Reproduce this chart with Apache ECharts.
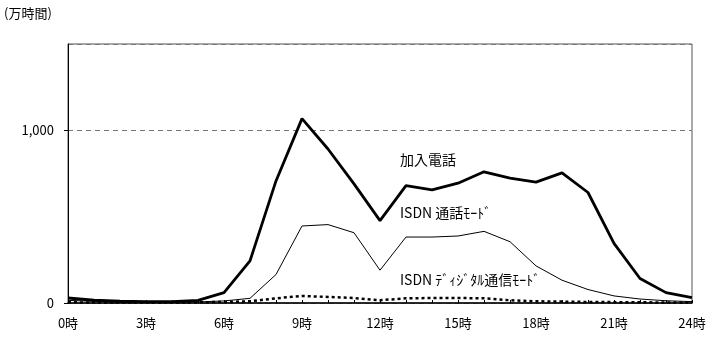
<!DOCTYPE html>
<html><head><meta charset="utf-8">
<script src="https://cdn.jsdelivr.net/npm/echarts@6/dist/echarts.min.js"></script>
<style>html,body{margin:0;padding:0;background:#fff}#c{width:725px;height:359px}</style>
</head><body><div id="c"></div>
<script>
const hours = [0,1,2,3,4,5,6,7,8,9,10,11,12,13,14,15,16,17,18,19,20,21,22,23,24];
const kanyu = [29,16,10,8,8,15,60,244,707,1068,892,690,477,680,655,694,760,723,700,754,640,345,142,60,31];
const isdnTalk = [15,10,6,5,5,6,12,27,165,446,454,407,190,382,382,388,415,355,215,132,78,41,23,13,8];
const isdnDigital = [4,3,3,3,3,4,6,10,27,41,35,29,16,27,29,29,27,16,10,8,6,5,4,3,3];
const seriesNames = ['加入電話','ISDN 通話ﾓｰﾄﾞ','ISDN ﾃﾞｨｼﾞﾀﾙ通信ﾓｰﾄﾞ'];
const font = '"Noto Sans CJK JP", "Noto Sans", sans-serif';
const pairs = a => hours.map((h,i)=>[h,a[i]]);
const chart = echarts.init(document.getElementById('c'));
chart.setOption({
  animation:false,
  textStyle:{fontFamily:font},
  grid:{left:68,right:33,top:44,bottom:56,show:true,borderColor:'#555',borderWidth:1},
  graphic:[
    {type:'text',left:4,top:7,style:{text:'(万時間)',font:'13px '+font,fill:'#000'}},
    {type:'text',left:400,top:153,style:{text:seriesNames[0],font:'14px '+font,fill:'#000'}},
    {type:'text',left:400,top:206,style:{text:seriesNames[1],font:'14px '+font,fill:'#000'}},
    {type:'text',left:400,top:273,style:{text:seriesNames[2],font:'14px '+font,fill:'#000'}}
  ],
  xAxis:{type:'value',min:0,max:24,interval:3,
    axisLine:{lineStyle:{color:'#000',width:1.5}},
    axisTick:{inside:true,length:3,lineStyle:{color:'#000'}},
    minorTick:{show:true,splitNumber:3,length:3,lineStyle:{color:'#000'}},
    splitLine:{show:false},
    axisLabel:{formatter:v=>v+'時',color:'#000',fontSize:13,margin:14,fontFamily:font}},
  yAxis:{type:'value',min:0,max:1500,interval:1000,
    axisLine:{show:true,lineStyle:{color:'#000'}},
    axisTick:{show:true,length:4,lineStyle:{color:'#000'}},
    splitLine:{show:true,lineStyle:{color:'#777',type:[5,4]}},
    axisLabel:{showMaxLabel:false,color:'#000',fontSize:13,margin:14,fontFamily:font,
      formatter:v=>v===1500?'':v.toLocaleString('en-US')}},
  series:[
    {name:seriesNames[0],type:'line',data:pairs(kanyu),symbol:'none',lineStyle:{color:'#000',width:2.8}},
    {name:seriesNames[1],type:'line',data:pairs(isdnTalk),symbol:'none',lineStyle:{color:'#000',width:1}},
    {name:seriesNames[2],type:'line',data:pairs(isdnDigital),symbol:'none',lineStyle:{color:'#000',width:2.5,type:[3,3]}}
  ]
});
</script></body></html>
